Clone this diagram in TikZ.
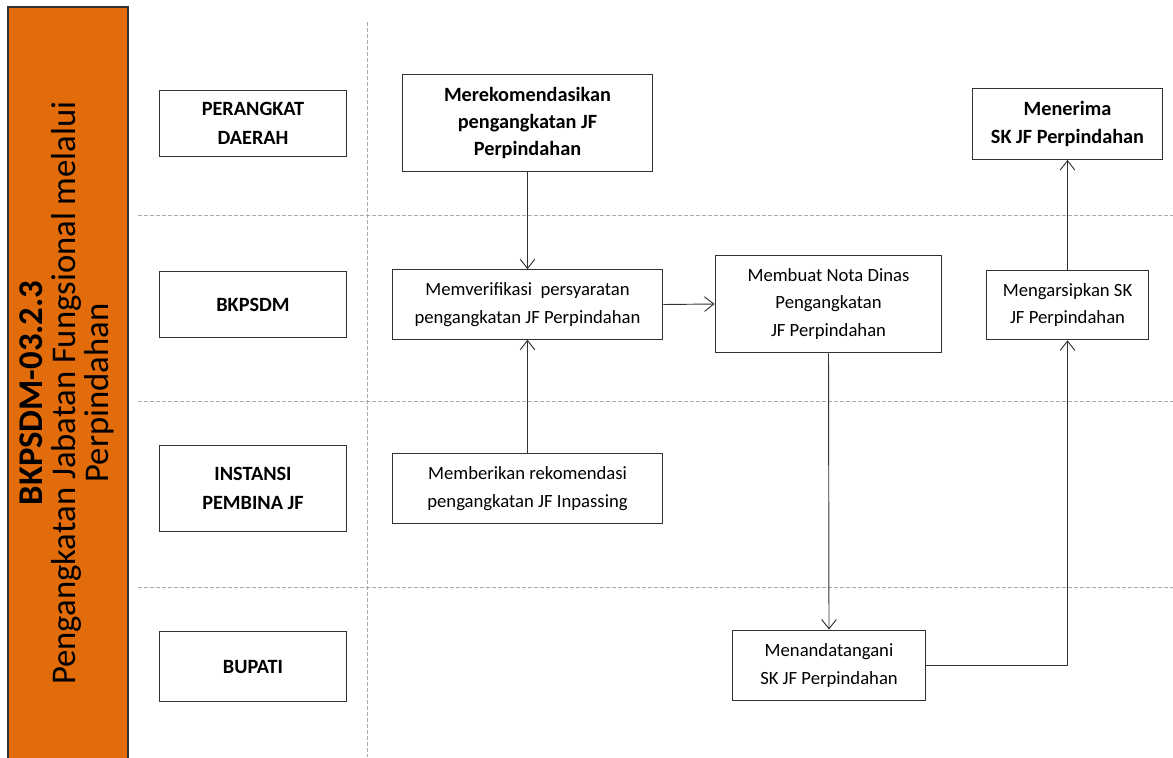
\documentclass[tikz,border=0pt]{standalone}
\usepackage{fontspec}
\setmainfont{Carlito}
\definecolor{barorange}{RGB}{227,108,10}
\definecolor{linegray}{RGB}{50,50,50}
\definecolor{dashgray}{RGB}{170,170,170}
\usetikzlibrary{arrows.meta,positioning,calc}

\begin{document}
\begin{tikzpicture}[
  x=0.75pt,y=-0.75pt,
  every node/.style={font=\fontsize{14}{20.5}\selectfont},
  lanebox/.style={draw=linegray,line width=0.9pt,minimum width=140pt,
                  align=center,inner sep=3pt,font=\fontsize{15.2}{21.5}\selectfont\bfseries},
  actbox/.style={draw=linegray,line width=0.9pt,align=center,inner sep=3pt},
  lanesep/.style={dashgray,dashed,dash pattern=on 3pt off 1.5pt,line width=0.7pt},
  flow/.style={linegray,line width=0.7pt,-{Straight Barb[length=7pt,width=11pt]}},
]
  \useasboundingbox (0,0) rectangle (1173,757);

  % Title bar
  \fill[barorange,draw=linegray,line width=0.9pt] (8,7) rectangle (128,760);
  \node[rotate=90,align=center,font=\fontsize{26}{25}\selectfont] (title) at (67,393)
    {\textbf{BKPSDM-03.2.3}\\Pengangkatan Jabatan Fungsional melalui\\Perpindahan};

  % Lane separators
  \draw[lanesep] (367,22) -- (367,757);
  \foreach \y in {215,401,587}
    \draw[lanesep] (138,\y) -- (1173,\y);

  % Lanes
  \node[lanebox,minimum height=50pt] (pd)   at (253,123.5) {PERANGKAT\\DAERAH};
  \node[lanebox,minimum height=50pt] (bk)   at (253,304.5) {BKPSDM};
  \node[lanebox,minimum height=65pt] (ins)  at (253,488.5) {INSTANSI\\PEMBINA JF};
  \node[lanebox,minimum height=52pt] (bup)  at (253,666.5) {BUPATI};

  % Activities
  \node[actbox,font=\fontsize{15.2}{20.5}\selectfont\bfseries,
        minimum width=188pt,minimum height=73pt] (rekom) at (527.5,123)
    {Merekomendasikan\\pengangkatan JF\\Perpindahan};
  \node[actbox,minimum width=203pt,minimum height=52pt] (verif) at (527.5,304.5)
    {Memverifikasi~ persyaratan\\pengangkatan JF Perpindahan};
  \node[actbox,minimum width=203pt,minimum height=53pt] (beri) at (527.5,488.5)
    {Memberikan rekomendasi\\pengangkatan JF Inpassing};
  \node[actbox,minimum width=170pt,minimum height=73pt] (nota) at (828.5,304)
    {Membuat Nota Dinas\\Pengangkatan\\JF Perpindahan};
  \node[actbox,minimum width=145pt,minimum height=53pt] (ttd) at (829,665.5)
    {Menandatangani\\SK JF Perpindahan};
  \node[actbox,minimum width=121pt,minimum height=52pt] (arsip) at (1067.5,305)
    {Mengarsipkan SK\\JF Perpindahan};
  \node[actbox,font=\fontsize{15.2}{20.5}\selectfont\bfseries,
        minimum width=143pt,minimum height=53pt] (terima) at (1067.5,124)
    {Menerima\\SK JF Perpindahan};

  % Flow
  \draw[flow] (rekom.south) -- (verif.north);
  \draw[flow] (beri.north) -- (verif.south);
  \draw[flow] (verif.east) -- (nota.west);
  \draw[flow] (nota.south) -- (ttd.north);
  \draw[flow] (ttd.east) -| (arsip.south);
  \draw[flow] (arsip.north) -- (terima.south);
\end{tikzpicture}
\end{document}
